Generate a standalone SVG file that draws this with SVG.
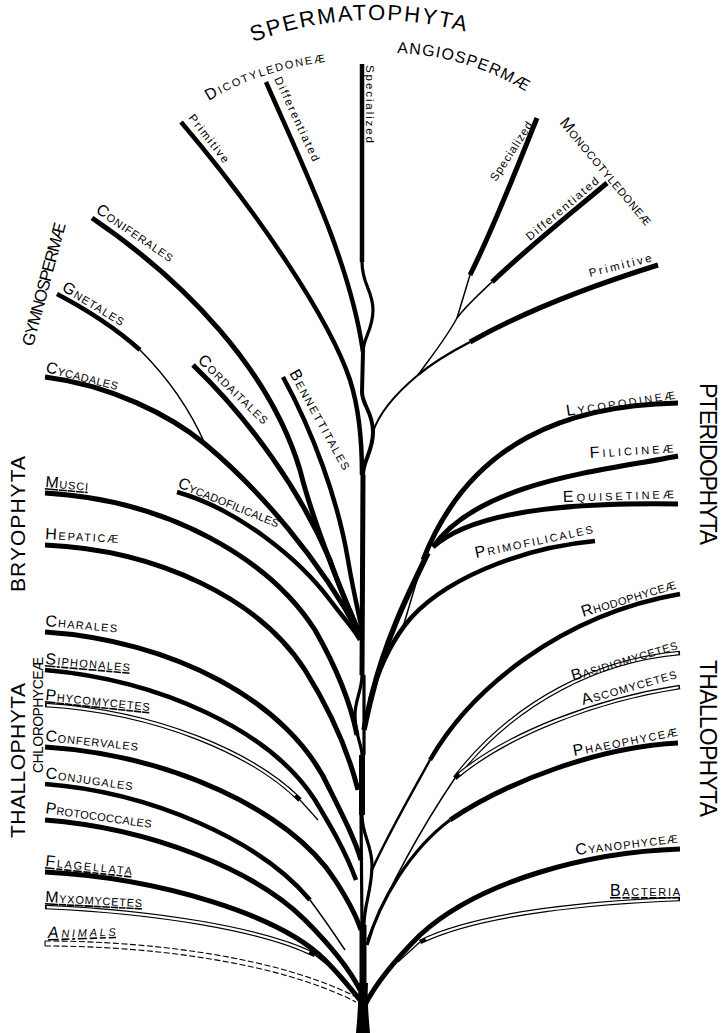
<svg xmlns="http://www.w3.org/2000/svg" width="726" height="1033" viewBox="0 0 726 1033">
<style>
.b{fill:none;stroke:#000;stroke-width:5}
.m{fill:none;stroke:#000;stroke-width:3.2}
.t{fill:none;stroke:#000;stroke-width:1.5}
.ho{fill:none;stroke:#000;stroke-width:4.6}
.hi{fill:none;stroke:#fff;stroke-width:2.2}
.d{fill:none;stroke:#000;stroke-width:1.1;stroke-dasharray:6 2.5}
text{font-family:"Liberation Sans",Arial,sans-serif;fill:#000}
.lb{font-size:16px;font-variant:small-caps}
.lw{font-size:11.5px}
.g{font-size:21px}
.gs{font-size:16px}
</style>
<defs>
<path id="arcS" d="M253,42 Q358,3 470,33"/>
<path id="arcA" d="M397,53 Q470,56 530,94"/>
<path id="arcD" d="M209,101 Q258,70 332,61"/>
<path id="hPhyc" pathLength="100" d="M45,705 C160,712 255,755 300,800"/>
<path id="hMyxo" pathLength="100" d="M45,907 C160,912 265,930 315,955"/>
<path id="hBasi" pathLength="100" d="M680,653 C600,660 515,700 455,778"/>
<path id="hAsco" pathLength="100" d="M680,687 C595,700 505,735 455,778"/>
<path id="hBact" pathLength="100" d="M680,899 C600,902 480,912 420,942"/>
</defs>
<rect width="726" height="1033" fill="#fff"/>

<g id="connectors">
  <g id="trunk">
    <path class="b" style="stroke-width:4.5" d="M362,64 L362,262"/>
    <path class="m" d="M362,262 C362,285 373,290 373,310 C373,330 363,338 363,352"/>
    <path class="b" style="stroke-width:4" d="M363,352 L362,392 C362,405 373,412 373,432 C373,452 363,460 363,475"/>
    <path class="b" d="M363,475 L362,675"/>
    <path class="m" d="M362,675 C362,690 355,700 355,715 C355,735 362,745 362,755"/>
    <path class="m" d="M364,675 L364,755"/>
    <path class="b" style="stroke-width:6" d="M362,755 L362,815"/>
    <path class="m" d="M362,815 C362,835 372,845 372,865 C372,890 364,905 364,925"/>
    <path class="m" d="M361,815 L362,925"/>
    <path class="b" style="stroke-width:7" d="M363,925 L363,988"/>
    <path d="M358,983 C359,1003 357,1020 356,1033 L370,1033 C369,1020 367,1003 368,983 Z" fill="#000"/>
  </g>
  <g id="dicot-branches">
    <path class="b" style="stroke-width:4.5" d="M266,82 C300,160 350,260 363,352"/>
    <path class="b" style="stroke-width:4.5" d="M181,122 C260,215 330,320 350,380 C358,405 362,440 362,475"/>
  </g>
  <g id="mono-branches">
    <path class="b" d="M537,118 C520,160 495,225 470,275"/>
    <path class="t" d="M470,275 L457,318"/>
    <path class="b" d="M607,183 C575,210 525,250 492,282"/>
    <path class="t" d="M492,282 C478,295 466,306 457,318"/>
    <path class="t" d="M457,318 C445,340 430,358 418,375"/>
    <path class="b" d="M658,265 C610,280 530,308 470,342"/>
    <path class="m" style="stroke-width:2.4" d="M470,342 C445,355 430,365 418,375"/>
    <path class="t" style="stroke-width:2" d="M418,375 C400,390 380,410 373,432"/>
  </g>
  <g id="gymno-branches">
    <path class="b" d="M92,218 C185,281 270,370 300,470 C315,530 345,600 360,635"/>
    <path class="b" style="stroke-width:4.5" d="M57,294 C95,314 120,332 140,350"/>
    <path class="t" d="M140,350 C165,375 188,405 205,444"/>
    <path class="b" d="M45,377 C110,385 170,415 205,444 C260,490 320,560 360,635"/>
    <path class="b" d="M193,365 C250,420 300,490 330,560 C340,590 352,615 360,635"/>
    <path class="b" style="stroke-width:4.5" d="M283,377 C313,432 338,500 348,560 C353,590 358,610 362,630"/>
    <path class="b" style="stroke-width:4.5" d="M177,492 C240,510 300,560 330,600 C345,620 355,630 360,640"/>
  </g>
  <g id="bryo-branches">
    <path class="b" d="M45,493 C170,500 270,560 315,630 C335,665 350,700 357,735"/>
    <path class="b" d="M45,545 C160,550 260,600 305,670 C330,710 348,750 358,790"/>
  </g>
  <g id="pterido-branches">
    <path class="b" d="M678,403 C570,405 470,440 423,560"/>
    <path class="b" d="M678,456 C610,470 480,480 433,547"/>
    <path class="b" d="M678,504 C600,503 480,505 433,547"/>
    <path class="b" style="stroke-width:5.5" d="M428,553 C410,590 385,640 372,695 C368,710 366,720 364,730"/>
    <path class="t" d="M423,560 L403,627"/>
    <path class="b" style="stroke-width:4.5" d="M595,541 C520,548 440,580 405,625 C390,645 378,670 370,700"/>
  </g>
  <g id="thallo-left-branches">
    <path class="b" d="M45,632 C170,640 290,700 330,790 C345,820 355,840 361,860"/>
    <path class="b" style="stroke-width:4.5" d="M45,670 C160,680 270,730 315,800 C330,825 345,850 356,880"/>
    <use href="#hPhyc" class="ho"/>
    <use href="#hPhyc" class="hi" stroke-dasharray="0 0.6 97 10"/>
    <path class="t" style="stroke-width:1.2" d="M300,800 L318,820"/>
    <path class="b" d="M45,747 C170,755 290,810 335,880 C348,900 356,915 361,930"/>
    <path class="b" style="stroke-width:4.5" d="M45,784 C150,792 260,840 310,900"/>
    <path class="t" d="M310,900 C325,920 335,935 345,950"/>
    <path class="b" d="M45,820 C150,828 255,870 305,920 C330,945 350,970 360,990"/>
    <path class="b" d="M45,872 C160,878 280,915 325,960 C340,975 352,990 360,1000"/>
    <use href="#hMyxo" class="ho"/>
    <use href="#hMyxo" class="hi" stroke-dasharray="0 0.6 97 10"/>
    <path class="t" style="stroke-width:1.2" d="M315,955 L340,975"/>
    <path class="d" d="M45,941 C150,941 280,957 358,998"/>
    <path class="d" d="M45,946 C150,946 278,962 356,1002"/>
    <path class="t" style="stroke-width:1.1" d="M45,941 L45,946"/>
  </g>
  <g id="thallo-right-branches">
    <path class="b" style="stroke-width:4.5" d="M680,594 C560,615 470,690 430,760"/>
    <path class="m" style="stroke-width:2.4" d="M430,760 C405,805 385,840 371,872"/>
    <use href="#hBasi" class="ho"/>
    <use href="#hBasi" class="hi" stroke-dasharray="0 0.6 97 10"/>
    <use href="#hAsco" class="ho"/>
    <use href="#hAsco" class="hi" stroke-dasharray="0 0.6 97 10"/>
    <path class="t" d="M455,778 C420,830 388,890 367,940"/>
    <path class="b" d="M678,743 C600,747 510,780 450,820"/>
    <path class="m" d="M450,820 C410,850 380,900 367,945"/>
    <path class="b" d="M680,849 C590,852 480,880 420,935 C395,960 375,985 365,1005"/>
    <use href="#hBact" class="ho"/>
    <use href="#hBact" class="hi" stroke-dasharray="0 0.6 97 10"/>
    <path class="t" style="stroke-width:1.2" d="M420,942 L398,962"/>
  </g>
</g>

<g id="group-labels">
  <g id="lbl-spermatophyta"><text style="font-size:22px"><textPath href="#arcS" textLength="216">SPERMATOPHYTA</textPath></text></g>
  <g id="lbl-angiospermae"><text class="gs"><textPath href="#arcA" textLength="136">ANGIOSPERMÆ</textPath></text></g>
  <g id="lbl-dicotyledoneae"><text class="gs" style="font-variant:small-caps"><textPath href="#arcD" textLength="124">Dicotyledoneæ</textPath></text></g>
  <g id="lbl-monocotyledoneae"><text class="gs" style="font-variant:small-caps" transform="translate(559,123) rotate(50)" textLength="135">Monocotyledoneæ</text></g>
  <g id="lbl-gymnospermae"><text style="font-size:17px" transform="translate(33,347) rotate(-75)" textLength="127">GYMNOSPERMÆ</text></g>
  <g id="lbl-bryophyta"><text class="g" transform="translate(25,592) rotate(-90)" textLength="136">BRYOPHYTA</text></g>
  <g id="lbl-thallophyta-left"><text class="g" transform="translate(25,838) rotate(-90)" textLength="155">THALLOPHYTA</text></g>
  <g id="lbl-chlorophyceae"><text style="font-size:14px" transform="translate(43,773) rotate(-90)" textLength="116">CHLOROPHYCEÆ</text></g>
  <g id="lbl-pteridophyta"><text style="font-size:23px" transform="translate(700,383) rotate(90)" textLength="162">PTERIDOPHYTA</text></g>
  <g id="lbl-thallophyta-right"><text style="font-size:23px" transform="translate(700,660) rotate(90)" textLength="157">THALLOPHYTA</text></g>
</g>

<g id="nodes">
  <g id="n-dicot-specialized"><text class="lw" transform="translate(366,65) rotate(90)" textLength="78">Specialized</text></g>
  <g id="n-dicot-differentiated"><text class="lw" transform="translate(274,79) rotate(65)" textLength="92">Differentiated</text></g>
  <g id="n-dicot-primitive"><text class="lw" transform="translate(188,118) rotate(52)" textLength="58">Primitive</text></g>
  <g id="n-mono-specialized"><text class="lw" transform="translate(496,182) rotate(-57)" textLength="68">Specialized</text></g>
  <g id="n-mono-differentiated"><text class="lw" transform="translate(530,241) rotate(-40)" textLength="91">Differentiated</text></g>
  <g id="n-mono-primitive"><text class="lw" transform="translate(590,277) rotate(-14)" textLength="64">Primitive</text></g>

  <g id="n-coniferales"><text class="lb" transform="translate(95,212) rotate(34)" textLength="90">Coniferales</text></g>
  <g id="n-gnetales"><text class="lb" transform="translate(61,290) rotate(31)" textLength="70">Gnetales</text></g>
  <g id="n-cycadales"><text class="lb" transform="translate(45,372) rotate(14)" textLength="74">Cycadales</text></g>
  <g id="n-cordaitales"><text class="lb" transform="translate(197,361) rotate(44)" textLength="92">Cordaitales</text></g>
  <g id="n-bennettitales"><text class="lb" transform="translate(289,373) rotate(61)" textLength="112">Bennettitales</text></g>
  <g id="n-cycadofilicales"><text class="lb" transform="translate(177,487) rotate(22)" textLength="108">Cycadofilicales</text></g>
  <g id="n-musci"><text class="lb" transform="translate(45,487) rotate(5)" text-decoration="underline" textLength="43">Musci</text></g>
  <g id="n-hepaticae"><text class="lb" transform="translate(45,539) rotate(3)" textLength="73">Hepaticæ</text></g>
  <g id="n-charales"><text class="lb" transform="translate(45,626) rotate(5)" textLength="72">Charales</text></g>
  <g id="n-siphonales"><text class="lb" transform="translate(45,664) rotate(5)" text-decoration="underline" textLength="85">Siphonales</text></g>
  <g id="n-phycomycetes"><text class="lb" transform="translate(45,700) rotate(6)" text-decoration="underline" textLength="105">Phycomycetes</text></g>
  <g id="n-confervales"><text class="lb" transform="translate(45,741) rotate(6)" textLength="93">Confervales</text></g>
  <g id="n-conjugales"><text class="lb" transform="translate(45,778) rotate(8)" textLength="88">Conjugales</text></g>
  <g id="n-protococcales"><text class="lb" transform="translate(45,813) rotate(8)" textLength="107">Protococcales</text></g>
  <g id="n-flagellata"><text class="lb" transform="translate(45,866) rotate(6)" text-decoration="underline" textLength="87">Flagellata</text></g>
  <g id="n-myxomycetes"><text class="lb" transform="translate(45,902) rotate(3)" text-decoration="underline" textLength="97">Myxomycetes</text></g>
  <g id="n-animals"><text class="lb" font-style="italic" transform="translate(48,938) rotate(-2)" text-decoration="underline" textLength="68">Animals</text></g>

  <g id="n-lycopodineae"><text class="lb" transform="translate(567,416) rotate(-9)" textLength="110">Lycopodineæ</text></g>
  <g id="n-filicineae"><text class="lb" transform="translate(590,458) rotate(-4)" textLength="84">Filicineæ</text></g>
  <g id="n-equisetineae"><text class="lb" transform="translate(563,502) rotate(-2)" textLength="111">Equisetineæ</text></g>
  <g id="n-primofilicales"><text class="lb" transform="translate(476,558) rotate(-12)" textLength="120">Primofilicales</text></g>
  <g id="n-rhodophyceae"><text class="lb" transform="translate(583,617) rotate(-17)" textLength="98">Rhodophyceæ</text></g>
  <g id="n-basidiomycetes"><text class="lb" transform="translate(573,681) rotate(-17)" textLength="110">Basidiomycetes</text></g>
  <g id="n-ascomycetes"><text class="lb" transform="translate(583,705) rotate(-16)" textLength="98">Ascomycetes</text></g>
  <g id="n-phaeophyceae"><text class="lb" transform="translate(574,756) rotate(-11)" textLength="106">Phaeophyceæ</text></g>
  <g id="n-cyanophyceae"><text class="lb" transform="translate(576,855) rotate(-7)" textLength="103">Cyanophyceæ</text></g>
  <g id="n-bacteria"><text class="lb" transform="translate(610,896)" text-decoration="underline" textLength="70">Bacteria</text></g>
</g>
</svg>
